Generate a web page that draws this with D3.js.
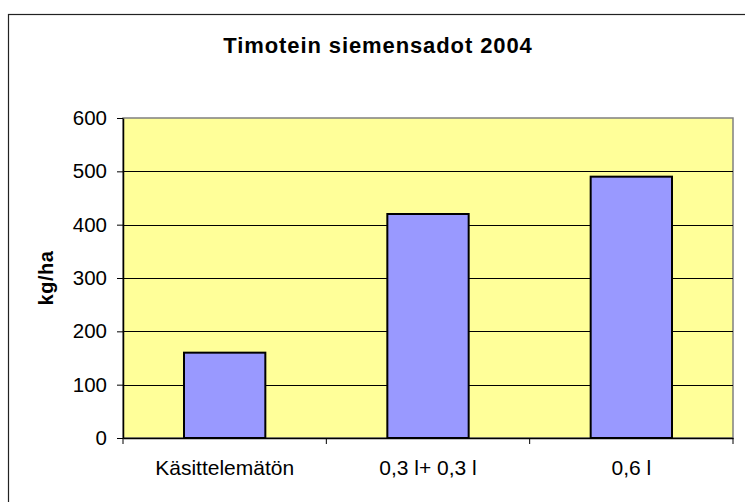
<!DOCTYPE html>
<html lang="fi">
<head>
    <meta charset="UTF-8">
    <title>Timotein siemensadot 2004</title>
    <style>
        body { margin: 0; background: #fff; }
        text { font-family: Arial, "Liberation Sans", sans-serif; fill: #000; }
    </style>
    <script src="https://d3js.org/d3.v7.min.js"></script>
</head>
<body>
    <svg width="745" height="502"></svg>
    <script>
        const categories = ["Käsittelemätön", "0,3 l+ 0,3 l", "0,6 l"];
        const values = [160, 420, 490];
        const yTicks = [0, 100, 200, 300, 400, 500, 600];

        const svg = d3.select("svg");
        const plotLeft = 123, plotRight = 733, plotTop = 118, plotBottom = 438;

        // chart frame (runs off the picture on right and bottom)
        svg.append("rect")
            .attr("x", 8.5).attr("y", 14.5)
            .attr("width", 800).attr("height", 600)
            .attr("fill", "#fff")
            .attr("stroke", "#222").attr("stroke-width", 1.2);

        const x = d3.scaleBand().domain(categories).range([plotLeft, plotRight]);
        const y = d3.scaleLinear().domain([0, 600]).range([plotBottom, plotTop]);

        // plot area
        svg.append("rect")
            .attr("x", plotLeft).attr("y", plotTop)
            .attr("width", plotRight - plotLeft).attr("height", plotBottom - plotTop)
            .attr("fill", "#FFFF99")
            .attr("stroke", "#808080").attr("stroke-width", 1.5);

        // gridlines
        svg.selectAll(".grid")
            .data(yTicks.filter(d => d > 0 && d < 600))
            .enter()
            .append("line")
            .attr("x1", plotLeft).attr("x2", plotRight)
            .attr("y1", d => Math.round(y(d)) + 0.5)
            .attr("y2", d => Math.round(y(d)) + 0.5)
            .attr("stroke", "#000").attr("stroke-width", 1);

        // bars, gap width 150%
        const bw = x.bandwidth() / 2.5;
        svg.selectAll(".bar")
            .data(values)
            .enter()
            .append("rect")
            .attr("x", (d, i) => x(categories[i]) + (x.bandwidth() - bw) / 2)
            .attr("y", d => y(d))
            .attr("width", bw)
            .attr("height", d => plotBottom - y(d))
            .attr("fill", "#9999FF")
            .attr("stroke", "#000").attr("stroke-width", 2);

        // y axis
        const yAxis = svg.append("g")
            .attr("transform", `translate(${plotLeft},0)`)
            .call(d3.axisLeft(y).tickValues(yTicks).tickSize(6).tickPadding(10).tickSizeOuter(0));
        yAxis.select(".domain").attr("stroke", "#000").attr("stroke-width", 1.5);
        yAxis.selectAll("text").style("font-size", "20.5px");

        // x axis: ticks on category boundaries
        const xAxis = svg.append("g")
            .attr("transform", `translate(0,${plotBottom})`)
            .call(d3.axisBottom(x).tickSize(0));
        xAxis.select(".domain").attr("stroke", "#000").attr("stroke-width", 1.5);
        xAxis.selectAll("text")
            .attr("y", 37).attr("dy", 0)
            .style("font-size", "21px");
        xAxis.selectAll(".sep")
            .data(d3.range(categories.length + 1))
            .enter()
            .append("line")
            .attr("x1", i => plotLeft + i * x.step())
            .attr("x2", i => plotLeft + i * x.step())
            .attr("y1", 0).attr("y2", 6)
            .attr("stroke", "#000");

        // title
        svg.append("text")
            .attr("x", 378).attr("y", 53)
            .attr("text-anchor", "middle")
            .style("font-size", "22px").style("font-weight", "bold")
            .style("letter-spacing", "0.9px")
            .text("Timotein siemensadot 2004");

        // y label
        svg.append("text")
            .attr("transform", `translate(53,${(plotTop + plotBottom) / 2}) rotate(-90)`)
            .attr("text-anchor", "middle")
            .style("font-size", "20px").style("font-weight", "bold")
            .style("letter-spacing", "0.5px")
            .text("kg/ha");
    </script>
</body>
</html>
